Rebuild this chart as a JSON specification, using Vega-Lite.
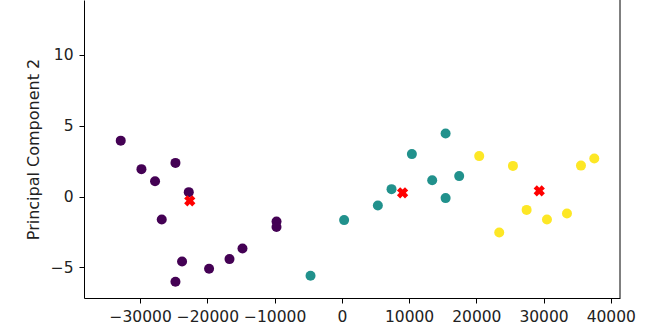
{
  "$schema": "https://vega.github.io/schema/vega-lite/v6.json",
  "width": 536,
  "height": 298,
  "autosize": "none",
  "padding": {"left": 84, "top": 0, "right": 40, "bottom": 32},
  "background": "white",
  "config": {
    "view": {"stroke": null},
    "font": "DejaVu Sans",
    "axis": {
      "grid": false,
      "domainColor": "#000000",
      "domainWidth": 1,
      "tickColor": "#000000",
      "tickWidth": 1,
      "tickSize": 5,
      "labelFont": "DejaVu Sans",
      "labelFontSize": 15.5,
      "labelColor": "#222222",
      "labelFlush": false,
      "labelOverlap": false,
      "labelPadding": 6,
      "titleFont": "DejaVu Sans",
      "titleFontSize": 16,
      "titleFontWeight": "normal",
      "titleColor": "#222222"
    }
  },
  "datasets": {
    "points": [
      {"pc1": -32887, "pc2": 3.94, "cluster": 0},
      {"pc1": -29807, "pc2": 1.93, "cluster": 0},
      {"pc1": -24747, "pc2": 2.37, "cluster": 0},
      {"pc1": -27783, "pc2": 1.08, "cluster": 0},
      {"pc1": -22768, "pc2": 0.31, "cluster": 0},
      {"pc1": -26786, "pc2": -1.62, "cluster": 0},
      {"pc1": -9717, "pc2": -1.76, "cluster": 0},
      {"pc1": -9717, "pc2": -2.15, "cluster": 0},
      {"pc1": -14777, "pc2": -3.66, "cluster": 0},
      {"pc1": -16711, "pc2": -4.41, "cluster": 0},
      {"pc1": -19747, "pc2": -5.09, "cluster": 0},
      {"pc1": -23765, "pc2": -4.58, "cluster": 0},
      {"pc1": -24747, "pc2": -6.01, "cluster": 0},
      {"pc1": 15432, "pc2": 4.44, "cluster": 1},
      {"pc1": 10417, "pc2": 2.99, "cluster": 1},
      {"pc1": 17455, "pc2": 1.44, "cluster": 1},
      {"pc1": 13438, "pc2": 1.15, "cluster": 1},
      {"pc1": 7391, "pc2": 0.52, "cluster": 1},
      {"pc1": 15432, "pc2": -0.11, "cluster": 1},
      {"pc1": 5357, "pc2": -0.63, "cluster": 1},
      {"pc1": 342, "pc2": -1.66, "cluster": 1},
      {"pc1": -4658, "pc2": -5.58, "cluster": 1},
      {"pc1": 20432, "pc2": 2.85, "cluster": 2},
      {"pc1": 25446, "pc2": 2.16, "cluster": 2},
      {"pc1": 35565, "pc2": 2.18, "cluster": 2},
      {"pc1": 37545, "pc2": 2.68, "cluster": 2},
      {"pc1": 27480, "pc2": -0.94, "cluster": 2},
      {"pc1": 30506, "pc2": -1.62, "cluster": 2},
      {"pc1": 33482, "pc2": -1.2, "cluster": 2},
      {"pc1": 23408, "pc2": -2.54, "cluster": 2}
    ],
    "centroids": [
      {"pc1": -22619, "pc2": -0.3},
      {"pc1": 9033, "pc2": 0.26},
      {"pc1": 29360, "pc2": 0.4}
    ],
    "spine": [{"pc1": 41370}]
  },
  "layer": [
    {
      "data": {"name": "points"},
      "mark": {"type": "circle", "size": 100, "opacity": 1},
      "encoding": {
        "x": {
          "field": "pc1", "type": "quantitative",
          "scale": {"domain": [-38350, 41370], "nice": false, "zero": false},
          "axis": {"title": null, "values": [-30000, -20000, -10000, 0, 10000, 20000, 30000, 40000], "format": "d"}
        },
        "y": {
          "field": "pc2", "type": "quantitative",
          "scale": {"domain": [-7.15, 13.85], "nice": false, "zero": false},
          "axis": {"title": "Principal Component 2", "values": [-5, 0, 5, 10], "format": "d", "titlePadding": 9}
        },
        "color": {
          "field": "cluster", "type": "nominal",
          "scale": {"domain": [0, 1, 2], "range": ["#440154", "#21918c", "#fde725"]},
          "legend": null
        }
      }
    },
    {
      "data": {"name": "centroids"},
      "mark": {"type": "point", "shape": "cross", "angle": 45, "filled": true, "color": "#ff0000", "opacity": 1, "size": 130},
      "encoding": {
        "x": {"field": "pc1", "type": "quantitative"},
        "y": {"field": "pc2", "type": "quantitative"}
      }
    },
    {
      "data": {"name": "spine"},
      "mark": {"type": "rule", "color": "#000000", "strokeWidth": 1},
      "encoding": {
        "x": {"field": "pc1", "type": "quantitative"}
      }
    }
  ]
}
